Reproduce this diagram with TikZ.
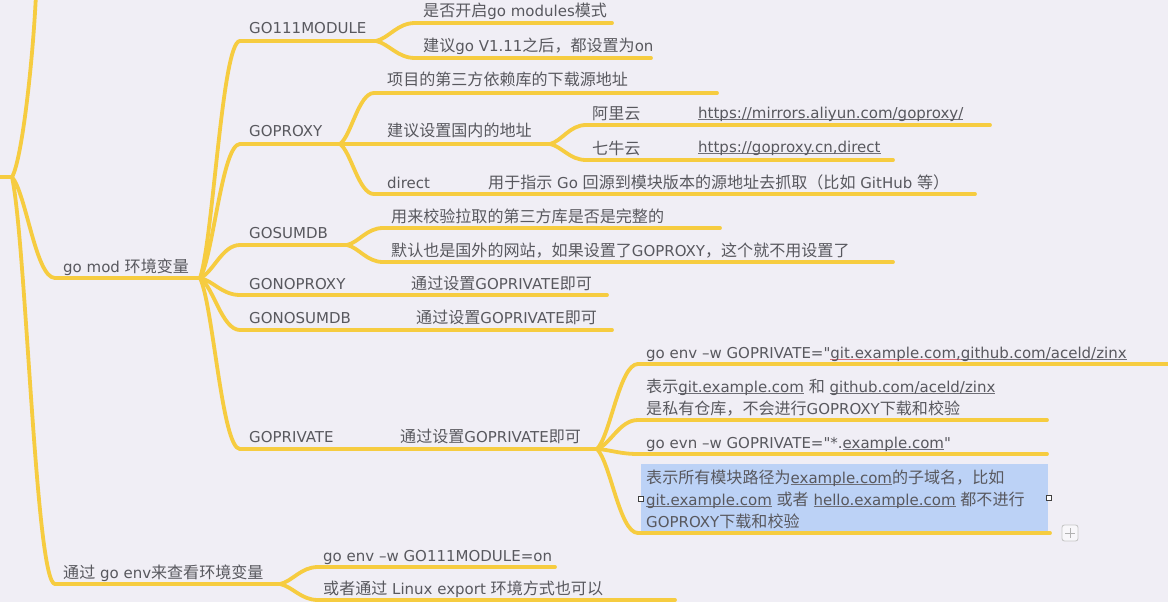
\documentclass[tikz,border=0pt]{standalone}
\usepackage{fontspec}
\setmainfont{DejaVu Sans}[Ligatures=TeXOff]
\newfontfamily\zhfont{Noto Sans CJK SC}[Scale=1.07]
\usetikzlibrary{calc}
\definecolor{bgc}{RGB}{240,238,245}
\definecolor{ly}{RGB}{246,204,64}
\definecolor{tg}{RGB}{88,88,94}
\definecolor{ulg}{RGB}{110,110,118}
\definecolor{ulr}{RGB}{214,110,120}
\definecolor{hl}{RGB}{188,210,246}
\newcommand\zhs[1]{{\zhfont #1}}
\newcommand\myul[1]{\leavevmode\setbox0\hbox{#1}\rlap{\textcolor{ulg}{\rule[-2.3pt]{\wd0}{0.9pt}}}\box0\relax}
\newcommand\myulr[1]{\leavevmode\setbox0\hbox{#1}\rlap{\textcolor{ulr}{\rule[-2.3pt]{\wd0}{0.9pt}}}\box0\relax}
\newcommand\mmlink[2]{\draw[br] let \p1=(#1), \p2=(#2) in (\p1) .. controls ({\x1+0.33*(\x2-\x1)},{\y1+0.16*(\y2-\y1)}) and ({\x2-0.45*(\x2-\x1)},\y2) .. (\p2);}
\begin{document}
\begin{tikzpicture}[x=1pt,y=-1pt,
  br/.style={draw=ly, line width=3.8pt, line cap=round, line join=round},
  lbl/.style={anchor=base west, inner sep=0pt, text=tg, font=\fontsize{15}{22}\selectfont},
  handle/.style={draw=black!75, fill=white, line width=0.8pt, minimum size=5pt, inner sep=0pt},
  plusbox/.style={draw=black!22, fill=white!55!bgc, rounded corners=2.5pt, minimum size=16pt, inner sep=0pt, line width=0.9pt}]
\fill[bgc] (0,0) rectangle (1168,602);
\useasboundingbox (0,0) rectangle (1168,602);

% highlight of the selected topic
\fill[hl] (641,464) rectangle (1048,532);

% ---- coordinates (line ends) ----
\coordinate (rl) at (-4,177); \coordinate (rb) at (12,177); \coordinate (rtop) at (36,-6);
\coordinate (gs) at (55,278);  \coordinate (ge) at (200,278);
\coordinate (vs) at (55,584);  \coordinate (ve) at (280,584);
\coordinate (g1s) at (240,41);  \coordinate (g1e) at (376,41);
\coordinate (g2s) at (240,144); \coordinate (g2e) at (340,144);
\coordinate (g3s) at (240,245); \coordinate (g3e) at (347,245);
\coordinate (g4s) at (240,295); \coordinate (g4e) at (607,295);
\coordinate (g5s) at (240,330); \coordinate (g5e) at (612,330);
\coordinate (g6s) at (240,449); \coordinate (g6e) at (597,449);
\coordinate (m1s) at (415,23);  \coordinate (m1e) at (612,23);
\coordinate (m2s) at (415,58);  \coordinate (m2e) at (651,58);
\coordinate (p1s) at (374,93);  \coordinate (p1e) at (717,93);
\coordinate (p2s) at (374,144); \coordinate (p2e) at (550,144);
\coordinate (p3s) at (374,194); \coordinate (p3e) at (975,194);
\coordinate (a1s) at (586,125); \coordinate (a1e) at (990,125);
\coordinate (a2s) at (586,160); \coordinate (a2e) at (893,160);
\coordinate (s1s) at (383,228); \coordinate (s1e) at (720,228);
\coordinate (s2s) at (383,262); \coordinate (s2e) at (893,262);
\coordinate (v1s) at (638,364); \coordinate (v1e) at (1172,364);
\coordinate (v2s) at (638,420); \coordinate (v2e) at (1047,420);
\coordinate (v3s) at (638,454); \coordinate (v3e) at (1047,454);
\coordinate (v4s) at (638,533); \coordinate (v4e) at (1050,533);
\coordinate (e1s) at (318,567); \coordinate (e1e) at (555,567);
\coordinate (e2s) at (318,600); \coordinate (e2e) at (675,600);

% ---- connectors ----
\draw[br] (rl) -- (rb);
\draw[br] (rb) .. controls (22,160) and (33,60) .. (rtop);
\mmlink{rb}{gs} \mmlink{rb}{vs}
\foreach \c in {g1s,g2s,g3s,g4s,g5s,g6s} {\mmlink{ge}{\c}}
\mmlink{g1e}{m1s} \mmlink{g1e}{m2s}
\mmlink{g2e}{p1s} \mmlink{g2e}{p2s} \mmlink{g2e}{p3s}
\mmlink{p2e}{a1s} \mmlink{p2e}{a2s}
\mmlink{g3e}{s1s} \mmlink{g3e}{s2s}
\foreach \c in {v1s,v2s,v3s,v4s} {\mmlink{g6e}{\c}}
\mmlink{ve}{e1s} \mmlink{ve}{e2s}

% ---- underlines of topics ----
\foreach \a/\b in {gs/ge,vs/ve,g1s/g1e,g2s/g2e,g3s/g3e,g4s/g4e,g5s/g5e,g6s/g6e,
  m1s/m1e,m2s/m2e,p1s/p1e,p2s/p2e,p3s/p3e,a1s/a1e,a2s/a2e,s1s/s1e,s2s/s2e,
  v1s/v1e,v2s/v2e,v3s/v3e,v4s/v4e,e1s/e1e,e2s/e2e} {\draw[br] (\a) -- (\b);}

% ---- texts ----
\node[lbl] (tm) at (63,272) {go mod \zhs{环境变量}};
\node[lbl] (te) at (63,578) {\zhs{通过} go env\zhs{来查看环境变量}};
\node[lbl] (t1) at (249,34) {GO111MODULE};
\node[lbl] (t2) at (249,136) {GOPROXY};
\node[lbl] (t3) at (249,238) {GOSUMDB};
\node[lbl] (t4) at (249,289) {GONOPROXY};
\node[lbl] (t5) at (249,323) {GONOSUMDB};
\node[lbl] (t6) at (249,442) {GOPRIVATE};
\node[lbl] (m1) at (423,17) {\zhs{是否开启}go modules\zhs{模式}};
\node[lbl] (m2) at (423,52) {\zhs{建议}go V1.11\zhs{之后，都设置为}on};
\node[lbl] (p1) at (387,85) {\zhs{项目的第三方依赖库的下载源地址}};
\node[lbl] (p2) at (387,136) {\zhs{建议设置国内的地址}};
\node[lbl] (a1l) at (592,119) {\zhs{阿里云}};
\node[lbl] (a1u) at (698,118) {\myul{https://mirrors.aliyun.com/goproxy/}};
\node[lbl] (a2l) at (592,154) {\zhs{七牛云}};
\node[lbl] (a2u) at (698,152) {\myul{https://goproxy.cn,direct}};
\node[lbl] (p3l) at (387,188) {direct};
\node[lbl] (p3d) at (488,188) {\zhs{用于指示} Go \zhs{回源到模块版本的源地址去抓取（比如} GitHub \zhs{等）}};
\node[lbl] (s1) at (391,222) {\zhs{用来校验拉取的第三方库是否是完整的}};
\node[lbl] (s2) at (391,256) {\zhs{默认也是国外的网站，如果设置了}GOPROXY\zhs{，这个就不用设置了}};
\node[lbl] (n1) at (411,289) {\zhs{通过设置}GOPRIVATE\zhs{即可}};
\node[lbl] (n2) at (416,323) {\zhs{通过设置}GOPRIVATE\zhs{即可}};
\node[lbl] (n3) at (400,442) {\zhs{通过设置}GOPRIVATE\zhs{即可}};
\node[lbl] (v1) at (646,358) {go env –w GOPRIVATE="\myulr{git.example.com,}\myul{github.com/aceld/zinx}};
\node[lbl] (v2) at (646,392) {\begin{tabular}[t]{@{}l@{}}\zhs{表示}\myul{git.example.com} \zhs{和} \myul{github.com/aceld/zinx}\\
  \zhs{是私有仓库，不会进行}GOPROXY\zhs{下载和校验}\end{tabular}};
\node[lbl] (v3) at (646,448) {go evn –w GOPRIVATE="*.\myul{example.com}"};
\node[lbl] (v4) at (646,483) {\begin{tabular}[t]{@{}l@{}}\zhs{表示所有模块路径为}\myul{example.com}\zhs{的子域名，比如}\\
  \myul{git.example.com} \zhs{或者} \myul{hello.example.com} \zhs{都不进行}\\
  GOPROXY\zhs{下载和校验}\end{tabular}};
\node[lbl] (e1) at (323,561) {go env –w GO111MODULE=on};
\node[lbl] (e2) at (323,594) {\zhs{或者通过} Linux export \zhs{环境方式也可以}};

% ---- selection handles and add button ----
\node[handle] (hL) at (641,499) {};
\node[handle] (hR) at (1049,498) {};
\node[plusbox] (plus) at (1070,533) {};
\draw[black!30, line width=1pt] ($(plus.center)+(-5,0)$) -- ($(plus.center)+(5,0)$)
  ($(plus.center)+(0,-5)$) -- ($(plus.center)+(0,5)$);
\end{tikzpicture}
\end{document}
